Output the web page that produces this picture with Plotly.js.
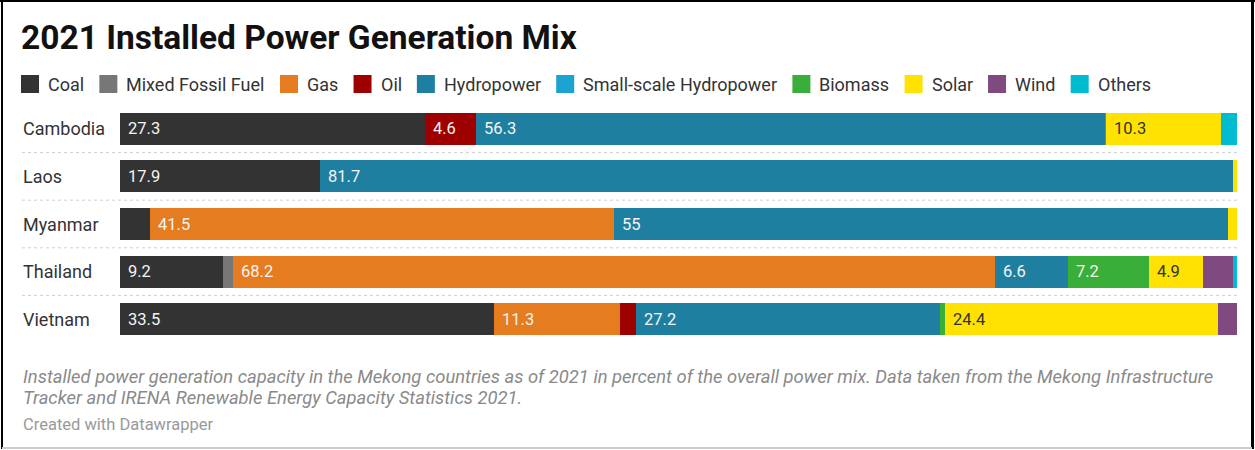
<!DOCTYPE html>
<html>
<head>
<meta charset="utf-8">
<script src="https://cdn.plot.ly/plotly-3.0.1.min.js"></script>
<style>
  html, body { margin: 0; padding: 0; background: #fff; }
  #chart { width: 1255px; height: 450px; }
</style>
</head>
<body>
<div id="chart"></div>
<script>
// Installed capacity shares (% of total) per country
const countries = ['Cambodia', 'Laos', 'Myanmar', 'Thailand', 'Vietnam'];

const sources = ['Coal', 'Mixed Fossil Fuel', 'Gas', 'Oil', 'Hydropower',
                 'Small-scale Hydropower', 'Biomass', 'Solar', 'Wind', 'Others'];

const coal        = [27.3, 17.9,  2.7,  9.2, 33.5];
const mixedFossil = [ 0,    0,    0,    0.9,  0  ];
const gas         = [ 0,    0,   41.5, 68.2, 11.3];
const oil         = [ 4.6,  0,    0,    0,    1.4];
const hydropower  = [56.3, 81.7, 55,    6.6, 27.2];
const smallHydro  = [ 0,    0,    0,    0,    0  ];
const biomass     = [ 0.1,  0,    0,    7.2,  0.5];
const solar       = [10.3,  0.4,  0.8,  4.9, 24.4];
const wind        = [ 0,    0,    0,    2.6,  1.7];
const others      = [ 1.4,  0,    0,    0.4,  0  ];

const seriesValues = [coal, mixedFossil, gas, oil, hydropower, smallHydro, biomass, solar, wind, others];

const colors = ['#333333', '#777777', '#e67c20', '#9e0000', '#1f7fa1',
                '#1ba3d2', '#39ae38', '#ffe200', '#7f4a80', '#00bcd0'];

const noteLines = [
  'Installed power generation capacity in the Mekong countries as of 2021 in percent of the overall power mix. Data taken from the Mekong Infrastructure',
  'Tracker and IRENA Renewable Energy Capacity Statistics 2021.'
];
const credit = 'Created with Datawrapper';

// Segments narrower than this get no value label
const LABEL_MIN = 4;

// ---- geometry helpers (page pixels -> paper coordinates)
const W = 1255, H = 450;
const M = { l: 120, r: 18, t: 105, b: 107 };
const PW = W - M.l - M.r, PH = H - M.t - M.b;
const xp = px => (px - M.l) / PW;
const yp = py => (H - M.b - py) / PH;

const traces = sources.map((name, i) => ({
  type: 'bar',
  orientation: 'h',
  name: name,
  y: countries,
  x: seriesValues[i],
  marker: { color: colors[i], line: { width: 0 } },
  hoverinfo: 'name+x',
  showlegend: false
}));

const annotations = [];
const shapes = [];

// value labels at the left edge of each wide-enough segment
countries.forEach((c, ci) => {
  let start = 0;
  seriesValues.forEach((vals, si) => {
    const v = vals[ci];
    if (v >= LABEL_MIN) {
      annotations.push({
        xref: 'x', yref: 'y', x: start, y: c,
        xanchor: 'left', yanchor: 'middle', xshift: 6,
        text: String(v), showarrow: false,
        font: { family: 'Roboto', size: 16.5, color: sources[si] === 'Solar' ? '#333333' : '#f4f4f4' }
      });
    }
    start += v;
  });
});

// country labels, left aligned
countries.forEach(c => {
  annotations.push({
    xref: 'paper', yref: 'y', x: xp(21), y: c,
    xanchor: 'left', yanchor: 'middle',
    text: c, showarrow: false,
    font: { family: 'Roboto', size: 18, color: '#333333' }
  });
});

// dotted row separators
for (let k = 1; k < countries.length; k++) {
  const py = M.t + k * PH / countries.length;
  shapes.push({
    type: 'line', xref: 'paper', yref: 'paper',
    x0: xp(22), x1: 1, y0: yp(py), y1: yp(py),
    line: { color: '#cfcfcf', width: 1, dash: 'dot' }
  });
}

// legend row: coloured squares with labels
const ctx = document.createElement('canvas').getContext('2d');
const legendFont = 18;
ctx.font = legendFont + 'px Roboto';
let lx = 21;
const legendY = 84;
sources.forEach((name, i) => {
  shapes.push({
    type: 'rect', xref: 'paper', yref: 'paper',
    x0: xp(lx), x1: xp(lx + 18), y0: yp(legendY + 9), y1: yp(legendY - 9),
    fillcolor: colors[i], line: { width: 0 }
  });
  annotations.push({
    xref: 'paper', yref: 'paper', x: xp(lx + 25), y: yp(legendY),
    xanchor: 'left', yanchor: 'middle', text: name, showarrow: false,
    font: { family: 'Roboto', size: legendFont, color: '#333333' }
  });
  lx += 25 + ctx.measureText(name).width + 17.2;
});

// notes below the chart
noteLines.forEach((line, i) => {
  annotations.push({
    xref: 'paper', yref: 'paper', x: xp(21), y: yp(376 + i * 21),
    xanchor: 'left', yanchor: 'middle', showarrow: false,
    text: '<i>' + line + '</i>',
    font: { family: 'Roboto', size: 18.4, color: '#8a8a8a' }
  });
});
annotations.push({
  xref: 'paper', yref: 'paper', x: xp(21), y: yp(424),
  xanchor: 'left', yanchor: 'middle', showarrow: false,
  text: credit,
  font: { family: 'Roboto', size: 16.5, color: '#999999' }
});

// frame
shapes.push({ type: 'line', xref: 'paper', yref: 'paper', x0: xp(2), x1: xp(2), y0: yp(0), y1: yp(449), line: { color: '#000', width: 2 } });
shapes.push({ type: 'line', xref: 'paper', yref: 'paper', x0: xp(0), x1: xp(1255), y0: yp(1), y1: yp(1), line: { color: '#000', width: 2 } });
shapes.push({ type: 'line', xref: 'paper', yref: 'paper', x0: xp(1252.5), x1: xp(1252.5), y0: yp(0), y1: yp(449), line: { color: '#000', width: 3 } });
shapes.push({ type: 'line', xref: 'paper', yref: 'paper', x0: xp(2), x1: xp(1252), y0: yp(448), y1: yp(448), line: { color: '#cccccc', width: 2 } });

const layout = {
  width: W, height: H,
  margin: M,
  paper_bgcolor: '#ffffff', plot_bgcolor: '#ffffff',
  barmode: 'stack',
  bargap: 0.33,
  title: {
    text: '2021 Installed Power Generation Mix',
    xref: 'container', yref: 'container',
    x: 21 / W, xanchor: 'left', y: 1 - 37 / H, yanchor: 'middle',
    font: { family: 'Roboto', size: 33.5, weight: 700, color: '#111111' }
  },
  xaxis: { range: [0, 100], visible: false, fixedrange: true },
  yaxis: {
    type: 'category', categoryorder: 'array', categoryarray: countries,
    autorange: 'reversed', showticklabels: false, showgrid: false,
    zeroline: false, ticks: '', fixedrange: true
  },
  showlegend: false,
  annotations: annotations,
  shapes: shapes
};

Plotly.newPlot('chart', traces, layout, { displayModeBar: false, staticPlot: true });
</script>
</body>
</html>
